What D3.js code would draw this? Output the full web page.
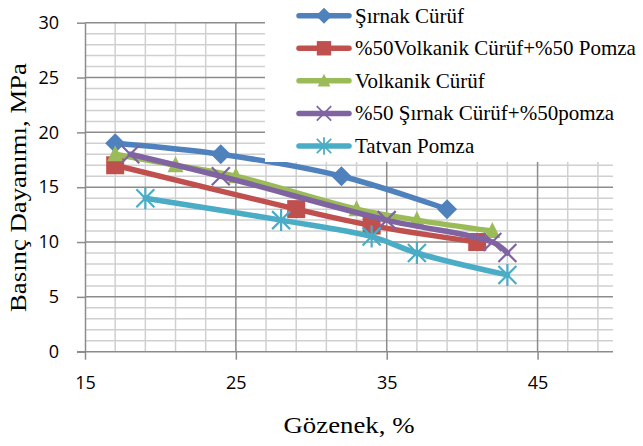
<!DOCTYPE html>
<html>
<head>
<meta charset="utf-8">
<script src="https://cdn.jsdelivr.net/npm/d3@7"></script>
<style>
  body { margin: 0; background: #fff; }
  svg { display: block; }
</style>
</head>
<body>
<svg id="chart" width="643" height="446"></svg>
<script>
// values (x = Gözenek %, y = Basınç Dayanımı MPa)
const sirnak = [[17, 19], [24, 18], [32, 16], [39, 13]];
const volkPomza = [[17, 17], [29, 13], [34, 11.5], [41, 10]];
const volkanik = [[17, 18], [21, 17], [25, 16], [33, 13], [37, 12], [42, 11]];
const sirnakPomza = [[18, 18], [24, 16], [35, 12], [42, 10], [43, 9]];
const tatvan = [[19, 14], [28, 12], [34, 10.5], [37, 9], [43, 7]];

const seriesNames = ["Şırnak Cürüf", "%50Volkanik Cürüf+%50 Pomza", "Volkanik Cürüf", "%50 Şırnak Cürüf+%50pomza", "Tatvan Pomza"];
const xTicks = [15, 25, 35, 45];
const yTicks = [0, 5, 10, 15, 20, 25, 30];

const series = [
  { name: seriesNames[0], data: sirnak, color: "#4F81BD", marker: "diamond" },
  { name: seriesNames[1], data: volkPomza, color: "#C0504D", marker: "square" },
  { name: seriesNames[2], data: volkanik, color: "#9BBB59", marker: "triangle" },
  { name: seriesNames[3], data: sirnakPomza, color: "#8064A2", marker: "x" },
  { name: seriesNames[4], data: tatvan, color: "#4BACC6", marker: "star" }
];

const svg = d3.select("#chart");
const plotL = 85, plotR = 613, plotT = 22.7, plotB = 351.7;

const x = d3.scaleLinear().domain([15, 50]).range([plotL, plotR]);
const y = d3.scaleLinear().domain([0, 30]).range([plotB, plotT]);

// grid
const grid = svg.append("g");
grid.selectAll(".vminor")
  .data(d3.range(17, 50, 2).filter(v => !xTicks.includes(v)))
  .enter().append("line")
  .attr("x1", d => x(d)).attr("x2", d => x(d))
  .attr("y1", plotT).attr("y2", plotB)
  .attr("stroke", "#d0d0d0").attr("stroke-width", 1.5);
grid.selectAll(".hminor")
  .data(d3.range(1, 30, 1).filter(v => !yTicks.includes(v)))
  .enter().append("line")
  .attr("x1", plotL).attr("x2", plotR)
  .attr("y1", d => y(d)).attr("y2", d => y(d))
  .attr("stroke", "#d0d0d0").attr("stroke-width", 1.5);
grid.selectAll(".vmajor")
  .data(xTicks.slice(1))
  .enter().append("line")
  .attr("x1", d => x(d)).attr("x2", d => x(d))
  .attr("y1", plotT).attr("y2", plotB)
  .attr("stroke", "#8c8c8c").attr("stroke-width", 1.5);
grid.selectAll(".hmajor")
  .data(yTicks.slice(1))
  .enter().append("line")
  .attr("x1", plotL).attr("x2", plotR)
  .attr("y1", d => y(d)).attr("y2", d => y(d))
  .attr("stroke", "#8c8c8c").attr("stroke-width", 1.5);

// axes
const xAxis = svg.append("g")
  .attr("transform", `translate(0,${plotB})`)
  .call(d3.axisBottom(x).tickValues(xTicks).tickSizeOuter(0).tickSizeInner(8).tickPadding(17));
const yAxis = svg.append("g")
  .attr("transform", `translate(${plotL},0)`)
  .call(d3.axisLeft(y).tickValues(yTicks).tickSizeOuter(0).tickSizeInner(8).tickPadding(18));

[xAxis, yAxis].forEach(a => {
  a.select(".domain").attr("stroke", "#8c8c8c").attr("stroke-width", 1.5);
  a.selectAll(".tick line").attr("stroke", "#8c8c8c").attr("stroke-width", 1.5);
  a.selectAll(".tick text")
    .attr("fill", "#000")
    .style("font-family", "'Open Sans', 'Liberation Sans', sans-serif")
    .style("font-size", "18px");
});
// axis line extends to the left of the y axis like Excel
xAxis.select(".domain").attr("d", `M${plotL - 8},0H${plotR}`);

// markers
function drawMarker(g, type, color) {
  if (type === "diamond") {
    g.append("path").attr("d", "M0,-10L10,0L0,10L-10,0Z").attr("fill", color);
  } else if (type === "square") {
    g.append("rect").attr("x", -9).attr("y", -9).attr("width", 18).attr("height", 18).attr("fill", color);
  } else if (type === "triangle") {
    g.append("path").attr("d", "M0,-9L8,7L-8,7Z").attr("fill", color);
  } else if (type === "x") {
    g.append("path").attr("d", "M-9,-9L9,9M-9,9L9,-9")
      .attr("stroke", color).attr("stroke-width", 2.2).attr("fill", "none");
  } else if (type === "star") {
    g.append("path").attr("d", "M-9,-9L9,9M-9,9L9,-9M0,-11V11")
      .attr("stroke", color).attr("stroke-width", 2.2).attr("fill", "none");
  }
}

const line = d3.line()
  .x(d => x(d[0]))
  .y(d => y(d[1]))
  .curve(d3.curveCatmullRom.alpha(0.5));

series.forEach(s => {
  const g = svg.append("g");
  g.append("path")
    .datum(s.data)
    .attr("d", line)
    .attr("fill", "none")
    .attr("stroke", s.color)
    .attr("stroke-width", 5.5)
    .attr("stroke-linejoin", "round")
    .attr("stroke-linecap", "round");
  g.selectAll(".pt")
    .data(s.data)
    .enter().append("g")
    .attr("transform", d => `translate(${x(d[0])},${y(d[1])})`)
    .each(function () { drawMarker(d3.select(this), s.marker, s.color); });
});

// legend
const legend = svg.append("g");
legend.append("rect")
  .attr("x", 265).attr("y", 0).attr("width", 378).attr("height", 162)
  .attr("fill", "#fff");
const rowY = d3.scaleLinear().domain([0, 4]).range([15.7, 146]);
series.forEach((s, i) => {
  const row = legend.append("g").attr("transform", `translate(0,${rowY(i)})`);
  row.append("line")
    .attr("x1", 299).attr("x2", 349).attr("y1", 0).attr("y2", 0)
    .attr("stroke", s.color).attr("stroke-width", 5.5).attr("stroke-linecap", "round");
  drawMarker(row.append("g").attr("transform", "translate(324,0) scale(0.8)"), s.marker, s.color);
  row.append("text")
    .attr("x", 355).attr("y", 7)
    .style("font-family", "'Liberation Serif', 'Times New Roman', serif")
    .style("font-size", "21px")
    .attr("fill", "#000")
    .text(s.name);
});

// axis titles
svg.append("text")
  .attr("x", (plotL + plotR) / 2).attr("y", 433)
  .attr("text-anchor", "middle")
  .attr("textLength", 131).attr("lengthAdjust", "spacingAndGlyphs")
  .style("font-family", "'Liberation Serif', 'Times New Roman', serif")
  .style("font-size", "23px")
  .text("Gözenek, %");

svg.append("text")
  .attr("transform", "translate(26,187.5) rotate(-90)")
  .attr("text-anchor", "middle")
  .attr("textLength", 249).attr("lengthAdjust", "spacingAndGlyphs")
  .style("font-family", "'Liberation Serif', 'Times New Roman', serif")
  .style("font-size", "23px")
  .text("Basınç Dayanımı, MPa");
</script>
</body>
</html>
